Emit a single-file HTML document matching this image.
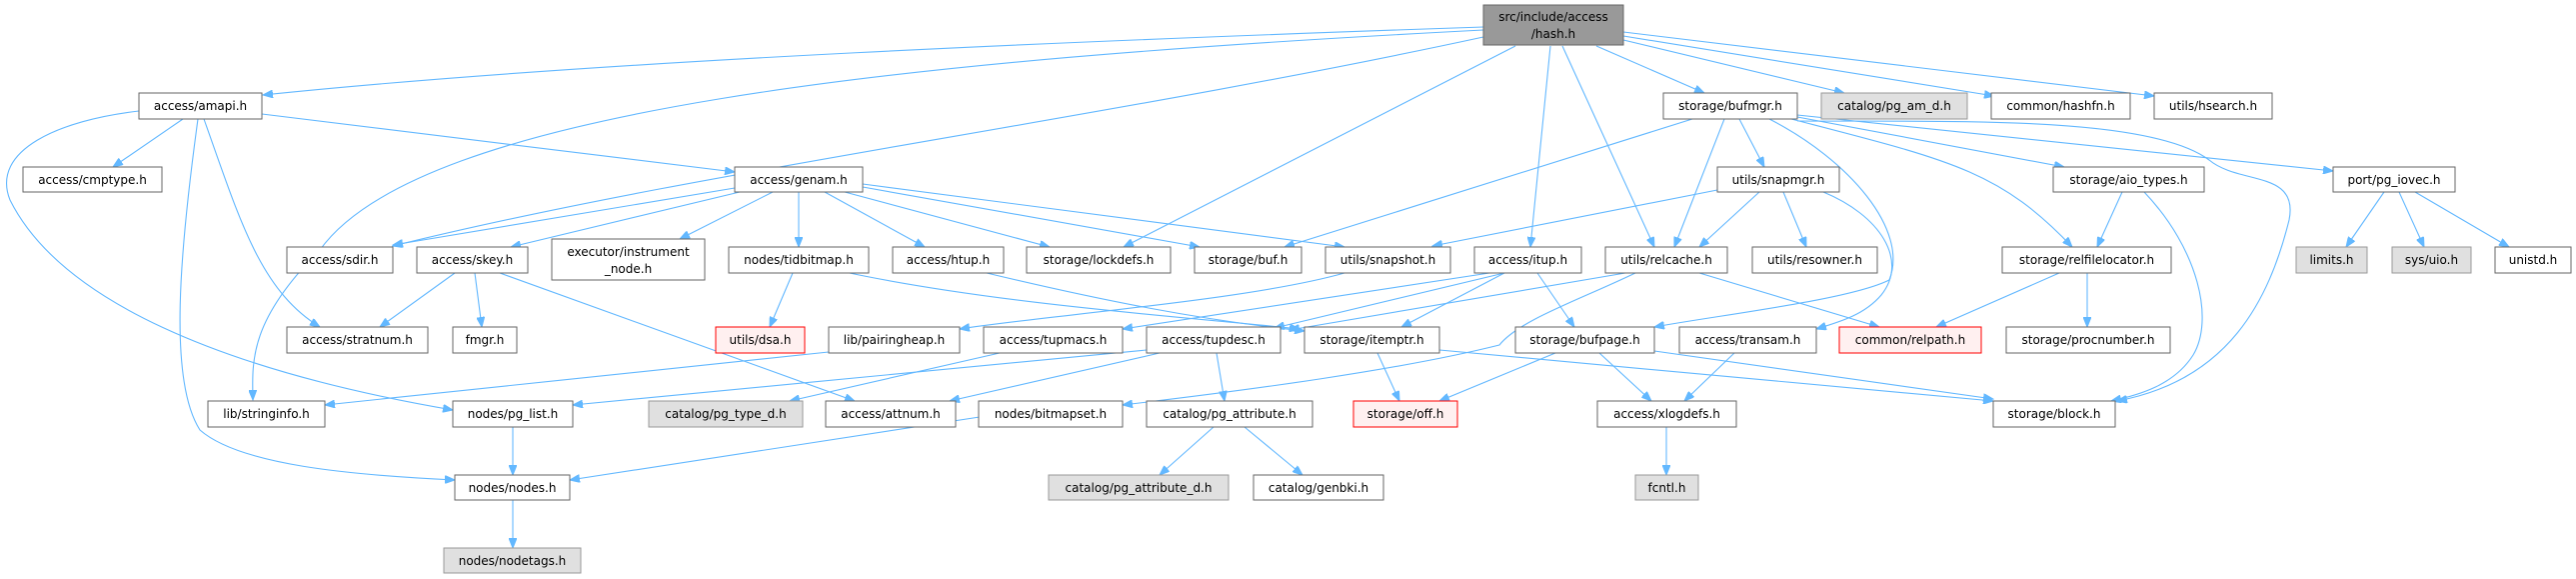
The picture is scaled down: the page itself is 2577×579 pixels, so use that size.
<!DOCTYPE html>
<html><head><meta charset="utf-8"><style>
html,body{margin:0;padding:0;background:#fff;}
svg{display:block;}
text{font-family:"DejaVu Sans","Liberation Sans",sans-serif;font-size:12px;fill:#000;}
.e{fill:none;stroke:#63b8ff;stroke-width:1.1;}
.n{fill:#fff;stroke:#666;stroke-width:1;}
.g{fill:#e0e0e0;stroke:#999;stroke-width:1;}
.r{fill:#fff0f0;stroke:#f00;stroke-width:1;}
.h{fill:#999;stroke:#666;stroke-width:1;}
</style></head><body>
<svg width="2577" height="579" viewBox="0 0 2577 579" xmlns="http://www.w3.org/2000/svg">
<defs><marker id="a" markerWidth="11" markerHeight="8" refX="10" refY="4" orient="auto" markerUnits="userSpaceOnUse"><path d="M0,0 L10,4 L0,8 Z" fill="#63b8ff" stroke="#63b8ff"/></marker></defs>
<g marker-end="url(#a)">
<!-- hash.h -->
<path class="e" d="M1484,27 C1100,40 600,60 263,95"/>
<path class="e" d="M1484,30 C900,60 420,110 320,250 C250,320 252,360 253,400"/>
<path class="e" d="M1484,37 C1100,120 700,170 393,246"/>
<path class="e" d="M1516,46 L1124,247"/>
<path class="e" d="M1551,46 L1531,247"/>
<path class="e" d="M1563,46 L1655,247"/>
<path class="e" d="M1597,46 L1705,93"/>
<path class="e" d="M1624,40 L1845,93"/>
<path class="e" d="M1624,36 L1995,96"/>
<path class="e" d="M1624,32 L2155,96"/>
<!-- amapi -->
<path class="e" d="M183,119 L113,167"/>
<path class="e" d="M262,114 L735,172"/>
<path class="e" d="M204,119 C240,220 260,290 320,327"/>
<path class="e" d="M198,119 C180,250 168,380 200,430 C240,465 350,475 455,480"/>
<path class="e" d="M139,111 C60,120 -10,150 10,200 C60,300 220,370 453,410"/>
<!-- genam -->
<path class="e" d="M735,188 L393,245"/>
<path class="e" d="M740,192 L511,247"/>
<path class="e" d="M773,192 L680,239"/>
<path class="e" d="M799,192 L799,247"/>
<path class="e" d="M825,192 L925,247"/>
<path class="e" d="M845,192 L1050,247"/>
<path class="e" d="M863,187 L1200,247"/>
<path class="e" d="M863,184 L1345,247"/>
<!-- skey -->
<path class="e" d="M455,273 L380,327"/>
<path class="e" d="M475,273 L482,327"/>
<path class="e" d="M500,273 L855,401"/>
<!-- tidbitmap -->
<path class="e" d="M793,273 L770,327"/>
<path class="e" d="M845,272 C1000,305 1200,318 1300,329"/>
<path class="e" d="M987,273 C1100,300 1200,320 1305,331"/>
<path class="e" d="M829,352 L325,405"/>
<path class="e" d="M1345,273 C1250,300 1050,315 960,329"/>
<!-- itup -->
<path class="e" d="M1490,273 L1123,329"/>
<path class="e" d="M1505,273 L1275,328"/>
<path class="e" d="M1505,273 L1402,327"/>
<path class="e" d="M1538,273 L1575,327"/>
<!-- relcache -->
<path class="e" d="M1626,273 L1290,330"/>
<path class="e" d="M1636,273 C1580,300 1520,320 1500,345 C1400,370 1250,390 1123,405"/>
<path class="e" d="M1700,273 L1880,327"/>
<!-- row 3 -->
<path class="e" d="M1000,353 L790,401"/>
<path class="e" d="M1147,350 L573,405"/>
<path class="e" d="M1160,353 L950,401"/>
<path class="e" d="M1217,353 L1225,401"/>
<path class="e" d="M1378,353 L1400,401"/>
<path class="e" d="M1440,350 L1994,401"/>
<path class="e" d="M1556,353 L1440,401"/>
<path class="e" d="M1600,353 L1652,401"/>
<path class="e" d="M1655,351 L1994,399"/>
<path class="e" d="M1735,353 L1685,401"/>
<!-- row 4 -->
<path class="e" d="M1214,427 L1160,475"/>
<path class="e" d="M1245,427 L1303,475"/>
<path class="e" d="M980,417 L570,480"/>
<path class="e" d="M513,427 L513,475"/>
<path class="e" d="M513,500 L513,548"/>
<path class="e" d="M1667,427 L1667,475"/>
<!-- bufmgr -->
<path class="e" d="M1693,119 L1285,247"/>
<path class="e" d="M1725,119 L1675,247"/>
<path class="e" d="M1740,119 L1765,167"/>
<path class="e" d="M1770,119 C1850,160 1910,230 1890,280 C1850,300 1720,315 1655,327"/>
<path class="e" d="M1798,117 L2065,167"/>
<path class="e" d="M1792,119 C1950,160 2000,170 2073,247"/>
<path class="e" d="M1798,115 L2334,171"/>
<path class="e" d="M1798,121 C1950,122 2150,115 2210,160 C2240,185 2300,170 2290,220 C2270,300 2230,380 2118,401"/>
<!-- snapmgr -->
<path class="e" d="M1718,190 L1433,246"/>
<path class="e" d="M1760,192 L1700,247"/>
<path class="e" d="M1784,192 L1807,247"/>
<path class="e" d="M1824,192 C1880,215 1910,260 1882,295 C1865,315 1840,322 1817,329"/>
<!-- aio_types -->
<path class="e" d="M2123,192 L2098,247"/>
<path class="e" d="M2145,192 C2200,250 2215,320 2194,355 C2175,385 2140,395 2112,401"/>
<!-- relfilelocator -->
<path class="e" d="M2060,273 L1937,327"/>
<path class="e" d="M2088,273 L2088,327"/>
<!-- pg_iovec -->
<path class="e" d="M2385,192 L2347,247"/>
<path class="e" d="M2400,192 L2425,247"/>
<path class="e" d="M2416,192 L2510,247"/>
</g>
<!-- nodes -->
<rect class="h" x="1484" y="5" width="140" height="40"/><text x="1554" y="21" text-anchor="middle">src/include/access</text><text x="1554" y="38" text-anchor="middle">/hash.h</text>
<rect class="n" x="139" y="93" width="123" height="26"/><text x="200.5" y="110" text-anchor="middle">access/amapi.h</text>
<rect class="n" x="1664" y="93" width="134" height="26"/><text x="1731" y="110" text-anchor="middle">storage/bufmgr.h</text>
<rect class="g" x="1822" y="93" width="146" height="26"/><text x="1895" y="110" text-anchor="middle">catalog/pg_am_d.h</text>
<rect class="n" x="1992" y="93" width="139" height="26"/><text x="2061.5" y="110" text-anchor="middle">common/hashfn.h</text>
<rect class="n" x="2155" y="93" width="118" height="26"/><text x="2214" y="110" text-anchor="middle">utils/hsearch.h</text>
<rect class="n" x="23" y="167" width="139" height="25"/><text x="92.5" y="184" text-anchor="middle">access/cmptype.h</text>
<rect class="n" x="735" y="167" width="128" height="25"/><text x="799" y="184" text-anchor="middle">access/genam.h</text>
<rect class="n" x="1718" y="167" width="122" height="25"/><text x="1779" y="184" text-anchor="middle">utils/snapmgr.h</text>
<rect class="n" x="2054" y="167" width="151" height="25"/><text x="2129.5" y="184" text-anchor="middle">storage/aio_types.h</text>
<rect class="n" x="2334" y="167" width="122" height="25"/><text x="2395" y="184" text-anchor="middle">port/pg_iovec.h</text>
<rect class="n" x="287" y="247" width="106" height="26"/><text x="340" y="264" text-anchor="middle">access/sdir.h</text>
<rect class="n" x="417" y="247" width="111" height="26"/><text x="472.5" y="264" text-anchor="middle">access/skey.h</text>
<rect class="n" x="552" y="239" width="153" height="41"/><text x="628.5" y="256" text-anchor="middle">executor/instrument</text><text x="628.5" y="273" text-anchor="middle">_node.h</text>
<rect class="n" x="729" y="247" width="140" height="26"/><text x="799" y="264" text-anchor="middle">nodes/tidbitmap.h</text>
<rect class="n" x="893" y="247" width="111" height="26"/><text x="948.5" y="264" text-anchor="middle">access/htup.h</text>
<rect class="n" x="1027" y="247" width="144" height="26"/><text x="1099" y="264" text-anchor="middle">storage/lockdefs.h</text>
<rect class="n" x="1195" y="247" width="107" height="26"/><text x="1248.5" y="264" text-anchor="middle">storage/buf.h</text>
<rect class="n" x="1326" y="247" width="125" height="26"/><text x="1388.5" y="264" text-anchor="middle">utils/snapshot.h</text>
<rect class="n" x="1475" y="247" width="107" height="26"/><text x="1528.5" y="264" text-anchor="middle">access/itup.h</text>
<rect class="n" x="1606" y="247" width="122" height="26"/><text x="1667" y="264" text-anchor="middle">utils/relcache.h</text>
<rect class="n" x="1753" y="247" width="125" height="26"/><text x="1815.5" y="264" text-anchor="middle">utils/resowner.h</text>
<rect class="n" x="2003" y="247" width="169" height="26"/><text x="2087.5" y="264" text-anchor="middle">storage/relfilelocator.h</text>
<rect class="g" x="2297" y="247" width="71" height="26"/><text x="2332.5" y="264" text-anchor="middle">limits.h</text>
<rect class="g" x="2393" y="247" width="79" height="26"/><text x="2432.5" y="264" text-anchor="middle">sys/uio.h</text>
<rect class="n" x="2496" y="247" width="76" height="26"/><text x="2534" y="264" text-anchor="middle">unistd.h</text>
<rect class="n" x="287" y="327" width="141" height="26"/><text x="357.5" y="344" text-anchor="middle">access/stratnum.h</text>
<rect class="n" x="453" y="327" width="64" height="26"/><text x="485" y="344" text-anchor="middle">fmgr.h</text>
<rect class="r" x="716" y="327" width="89" height="26"/><text x="760.5" y="344" text-anchor="middle">utils/dsa.h</text>
<rect class="n" x="829" y="327" width="131" height="26"/><text x="894.5" y="344" text-anchor="middle">lib/pairingheap.h</text>
<rect class="n" x="984" y="327" width="139" height="26"/><text x="1053.5" y="344" text-anchor="middle">access/tupmacs.h</text>
<rect class="n" x="1147" y="327" width="134" height="26"/><text x="1214" y="344" text-anchor="middle">access/tupdesc.h</text>
<rect class="n" x="1305" y="327" width="135" height="26"/><text x="1372.5" y="344" text-anchor="middle">storage/itemptr.h</text>
<rect class="n" x="1516" y="327" width="139" height="26"/><text x="1585.5" y="344" text-anchor="middle">storage/bufpage.h</text>
<rect class="n" x="1680" y="327" width="137" height="26"/><text x="1748.5" y="344" text-anchor="middle">access/transam.h</text>
<rect class="r" x="1840" y="327" width="142" height="26"/><text x="1911" y="344" text-anchor="middle">common/relpath.h</text>
<rect class="n" x="2007" y="327" width="164" height="26"/><text x="2089" y="344" text-anchor="middle">storage/procnumber.h</text>
<rect class="n" x="208" y="401" width="117" height="26"/><text x="266.5" y="418" text-anchor="middle">lib/stringinfo.h</text>
<rect class="n" x="453" y="401" width="120" height="26"/><text x="513" y="418" text-anchor="middle">nodes/pg_list.h</text>
<rect class="g" x="649" y="401" width="154" height="26"/><text x="726" y="418" text-anchor="middle">catalog/pg_type_d.h</text>
<rect class="n" x="826" y="401" width="130" height="26"/><text x="891" y="418" text-anchor="middle">access/attnum.h</text>
<rect class="n" x="979" y="401" width="144" height="26"/><text x="1051" y="418" text-anchor="middle">nodes/bitmapset.h</text>
<rect class="n" x="1147" y="401" width="166" height="26"/><text x="1230" y="418" text-anchor="middle">catalog/pg_attribute.h</text>
<rect class="r" x="1354" y="401" width="104" height="26"/><text x="1406" y="418" text-anchor="middle">storage/off.h</text>
<rect class="n" x="1598" y="401" width="139" height="26"/><text x="1667.5" y="418" text-anchor="middle">access/xlogdefs.h</text>
<rect class="n" x="1994" y="401" width="122" height="26"/><text x="2055" y="418" text-anchor="middle">storage/block.h</text>
<rect class="n" x="455" y="475" width="115" height="25"/><text x="512.5" y="492" text-anchor="middle">nodes/nodes.h</text>
<rect class="g" x="1049" y="475" width="180" height="25"/><text x="1139" y="492" text-anchor="middle">catalog/pg_attribute_d.h</text>
<rect class="n" x="1254" y="475" width="130" height="25"/><text x="1319" y="492" text-anchor="middle">catalog/genbki.h</text>
<rect class="g" x="1636" y="475" width="63" height="25"/><text x="1667.5" y="492" text-anchor="middle">fcntl.h</text>
<rect class="g" x="444" y="548" width="137" height="25"/><text x="512.5" y="565" text-anchor="middle">nodes/nodetags.h</text>
</svg>
</body></html>
